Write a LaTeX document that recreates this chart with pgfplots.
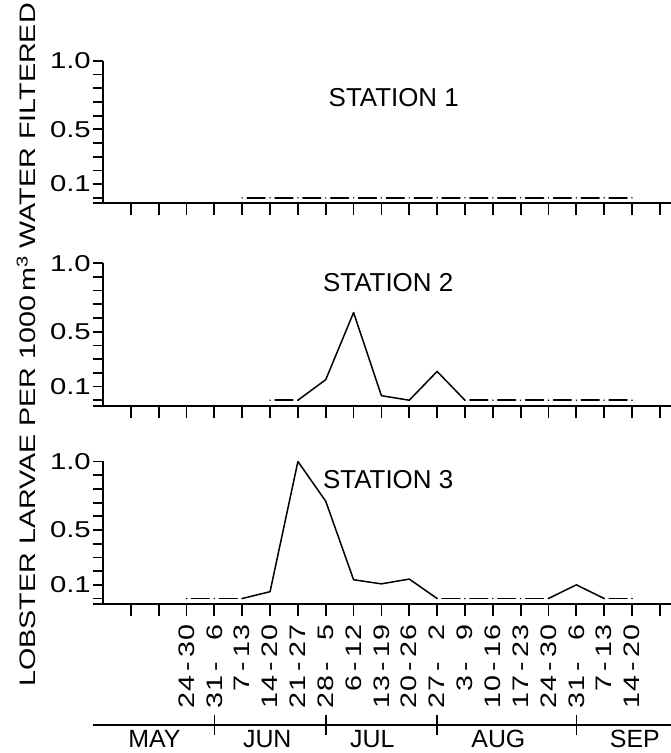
\documentclass[border=0pt]{standalone}
\usepackage{fontspec}
\setmainfont{Liberation Sans}
\newfontfamily\wide[FakeStretch=1.28]{Liberation Sans}
\usepackage{pgfplots}
\pgfplotsset{compat=1.18}
\newcommand\slot[1]{\makebox[17bp]{#1}}
\newcommand\wk[5]{\slot{#1}\slot{#2}\slot{#3}\slot{#4}\slot{#5}}
\pgfplotsset{
  panel/.style={
    scale only axis, width=568bp, height=142.5bp,
    anchor=south west,
    xmin=0, xmax=20.4, ymin=-0.04, ymax=1.0,
    axis x line*=bottom, axis y line*=left,
    axis line style={line width=2bp},
    tick align=outside,
    xtick={1,...,20},
    ytick={0.1,0.5,1.0}, yticklabels={0.1,0.5,1.0},
    minor ytick={-0.04,0,0.2,0.3,0.4,0.6,0.7,0.8,0.9},
    major tick length=10bp, minor tick length=10bp,
    xtick style={/pgfplots/major tick length=12bp},
    tick style={line width=1.8bp, black},
    yticklabel style={font=\fontsize{23}{26}\wide, inner sep=0pt},
    yticklabel shift=2bp,
    clip=false,
  },
  dd/.style={line width=1.6bp, line cap=round, dash pattern=on 0bp off 5bp on 17.8bp off 5.04bp},
  sl/.style={line width=1.5bp, line join=round, line cap=round},
}
\begin{document}
\begin{tikzpicture}
\useasboundingbox (0,0) rectangle (671bp,753bp);
% Station 1
\begin{axis}[panel, at={(103bp,549.7bp)}, xticklabels=\empty]
\addplot[dd] coordinates {(5,0) (6,0) (7,0) (8,0) (9,0) (10,0) (11,0) (12,0) (13,0) (14,0) (15,0) (16,0) (17,0) (18,0) (19,0)};
\node[anchor=west, inner sep=0pt, font=\fontsize{26}{30}\selectfont] at (axis cs:8.1,0.73) {STATION 1};
\end{axis}
% Station 2
\begin{axis}[panel, at={(103bp,347.3bp)}, xticklabels=\empty]
\addplot[dd] coordinates {(6,0) (7,0)};
\addplot[sl] coordinates {(7,0) (8,0.15) (9,0.64) (10,0.033) (11,0) (12,0.21) (13,0)};
\addplot[dd] coordinates {(13,0) (14,0) (15,0) (16,0) (17,0) (18,0) (19,0)};
\node[anchor=west, inner sep=0pt, font=\fontsize{26}{30}\selectfont] at (axis cs:7.9,0.86) {STATION 2};
\end{axis}
% Station 3
\begin{axis}[panel, at={(103bp,149bp)},
  xticklabels={{},{},\wk24-30,\wk31-{}6,\wk{}7-13,\wk14-20,\wk21-27,\wk28-{}5,\wk{}6-12,\wk13-19,\wk20-26,\wk27-{}2,\wk{}3-{}9,\wk10-16,\wk17-23,\wk24-30,\wk31-{}6,\wk{}7-13,\wk14-20,{}},
  xticklabel style={rotate=90, anchor=east, inner sep=0pt, font=\fontsize{22.5}{24}\wide},
  xticklabel shift=10bp]
\addplot[dd] coordinates {(3,0) (4,0) (5,0)};
\addplot[sl] coordinates {(5,0) (6,0.05) (7,1.0) (8,0.71) (9,0.137) (10,0.107) (11,0.142) (12,0)};
\addplot[dd] coordinates {(12,0) (13,0) (14,0) (15,0) (16,0)};
\addplot[sl] coordinates {(16,0) (17,0.10) (18,0)};
\addplot[dd] coordinates {(18,0) (19,0)};
\node[anchor=west, inner sep=0pt, font=\fontsize{26}{30}\selectfont] at (axis cs:7.9,0.87) {STATION 3};
% month bar
\draw[line width=1.6bp] (axis cs:-0.35,-0.922) -- (axis cs:20.4,-0.922);
\draw[line width=1.6bp] (axis cs:4,-0.85) -- (axis cs:4,-0.995);
\draw[line width=1.6bp] (axis cs:8,-0.85) -- (axis cs:8,-0.995);
\draw[line width=1.6bp] (axis cs:12,-0.85) -- (axis cs:12,-0.995);
\draw[line width=1.6bp] (axis cs:17,-0.85) -- (axis cs:17,-0.995);
\node[font=\fontsize{25}{28}\selectfont] at (axis cs:1.85,-1.024) {MAY};
\node[font=\fontsize{25}{28}\selectfont] at (axis cs:5.9,-1.024) {JUN};
\node[font=\fontsize{25}{28}\selectfont] at (axis cs:9.67,-1.024) {JUL};
\node[font=\fontsize{25}{28}\selectfont] at (axis cs:14.2,-1.024) {AUG};
\node[font=\fontsize{25}{28}\selectfont] at (axis cs:19.1,-1.024) {SEP};
\end{axis}
\node[rotate=90, anchor=base, inner sep=0pt, font=\fontsize{22.5}{26}\wide] at (35bp,408bp) {LOBSTER LARVAE PER 1000\,m\textsuperscript{3} WATER FILTERED};
\end{tikzpicture}
\end{document}
